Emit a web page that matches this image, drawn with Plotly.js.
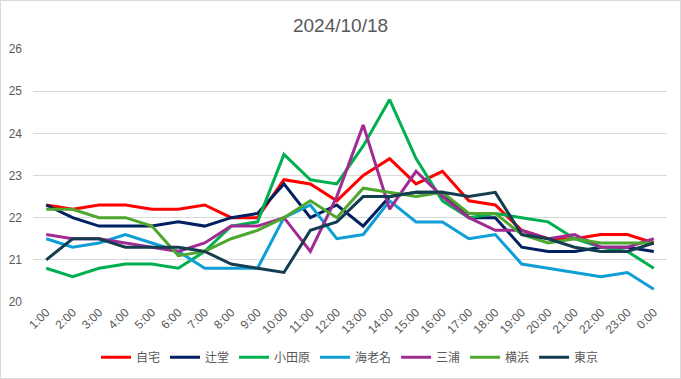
<!DOCTYPE html>
<html>
<head>
<meta charset="utf-8">
<script src="https://cdn.plot.ly/plotly-3.0.1.min.js"></script>
<style>
html,body{margin:0;padding:0;background:#fff;}
#chart{width:681px;height:379px;box-sizing:border-box;border:1px solid #d9d9d9;}
</style>
</head>
<body>
<div id="chart"></div>
<script>
const hours = ["1:00","2:00","3:00","4:00","5:00","6:00","7:00","8:00","9:00","10:00","11:00","12:00","13:00","14:00","15:00","16:00","17:00","18:00","19:00","20:00","21:00","22:00","23:00","0:00"];

const jitaku   = [22.3,22.2,22.3,22.3,22.2,22.2,22.3,22.0,22.0,22.9,22.8,22.4,23.0,23.4,22.8,23.1,22.4,22.3,21.7,21.5,21.5,21.6,21.6,21.4];
const tsujido  = [22.3,22.0,21.8,21.8,21.8,21.9,21.8,22.0,22.1,22.8,22.0,22.3,21.8,22.5,22.6,22.6,22.0,22.0,21.3,21.2,21.2,21.3,21.3,21.2];
const odawara  = [20.8,20.6,20.8,20.9,20.9,20.8,21.2,21.8,21.9,23.5,22.9,22.8,23.7,24.8,23.4,22.4,22.0,22.1,22.0,21.9,21.5,21.3,21.2,20.8];
const ebina    = [21.5,21.3,21.4,21.6,21.4,21.2,20.8,20.8,20.8,22.0,22.3,21.5,21.6,22.4,21.9,21.9,21.5,21.6,20.9,20.8,20.7,20.6,20.7,20.3];
const miura    = [21.6,21.5,21.5,21.4,21.3,21.2,21.4,21.8,21.8,22.0,21.2,22.5,24.2,22.2,23.1,22.5,22.0,21.7,21.7,21.5,21.6,21.3,21.3,21.5];
const yokohama = [22.2,22.2,22.0,22.0,21.8,21.1,21.2,21.5,21.7,22.0,22.4,22.0,22.7,22.6,22.5,22.6,22.1,22.1,21.6,21.4,21.5,21.4,21.4,21.4];
const tokyo    = [21.0,21.5,21.5,21.3,21.3,21.3,21.2,20.9,20.8,20.7,21.7,21.9,22.5,22.5,22.6,22.6,22.5,22.6,21.6,21.5,21.3,21.2,21.2,21.4];

const seriesNames = ["自宅","辻堂","小田原","海老名","三浦","横浜","東京"];
const seriesData = [jitaku, tsujido, odawara, ebina, miura, yokohama, tokyo];
const seriesColors = ["#ff0000","#002060","#00b050","#0f9ed5","#a02b93","#4ea72e","#143d4f"];

const traces = seriesNames.map((n,i)=>({
  type:'scatter', mode:'lines', name:n, x:hours, y:seriesData[i],
  line:{color:seriesColors[i], width:3}
}));

const FONT = '"Liberation Sans Narrow","Liberation Sans","Noto Sans CJK JP",sans-serif';
const layout = {
  width:679, height:377,
  margin:{l:32, r:13, t:48, b:76, pad:0},
  paper_bgcolor:'#ffffff', plot_bgcolor:'#ffffff',
  font:{family:FONT, size:12, color:'#595959'},
  title:{text:'2024/10/18', x:0.5, xanchor:'center', y:0.935, yanchor:'middle',
         font:{family:FONT, size:19, color:'#595959'}},
  showlegend:true,
  legend:{orientation:'h', x:0.5, xanchor:'center', yref:'container', y:0.055, yanchor:'middle',
          font:{family:'"Noto Sans CJK JP",sans-serif', size:12, color:'#595959'},
          traceorder:'normal'},
  xaxis:{type:'category', range:[-0.5,23.5], tickangle:-45, showgrid:false, zeroline:false,
         showline:false, ticks:'', tickfont:{family:FONT, size:12, color:'#595959'}},
  yaxis:{range:[20,26], dtick:1, tick0:20, showgrid:true, gridcolor:'#d9d9d9', gridwidth:1,
         zeroline:false, showline:false, ticks:'', ticklabelstandoff:10,
         tickfont:{family:FONT, size:12, color:'#595959'}}
};
Plotly.newPlot('chart', traces, layout, {displayModeBar:false, staticPlot:true});
</script>
</body>
</html>
